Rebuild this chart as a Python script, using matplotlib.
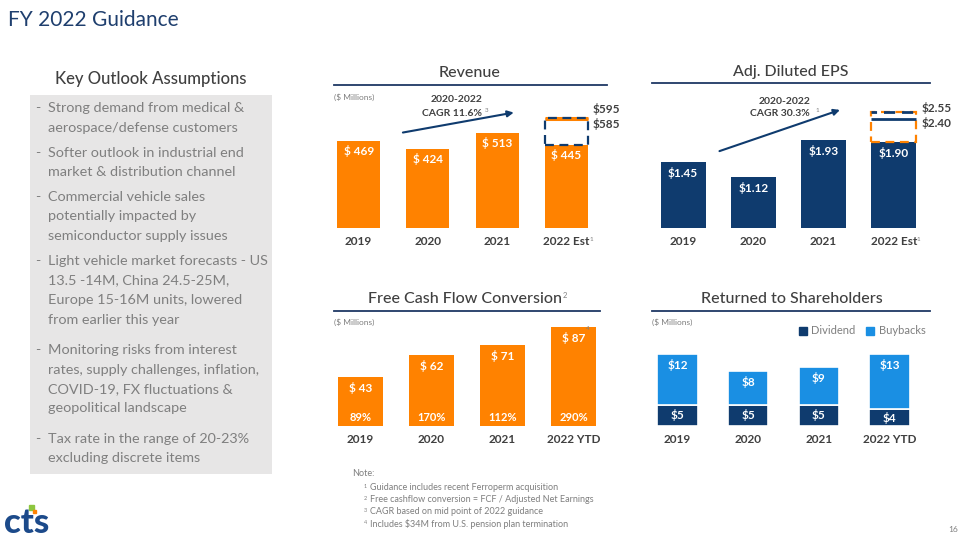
import matplotlib.pyplot as plt
from matplotlib.lines import Line2D
from matplotlib.patches import Rectangle, Patch

plt.rcParams['font.family'] = ['Lato', 'DejaVu Sans']

# data
years_est = ['2019', '2020', '2021', '2022 Est']
years_ytd = ['2019', '2020', '2021', '2022 YTD']
revenue = [469, 424, 513, 445]
revenue_low, revenue_high = 585, 595
eps = [1.45, 1.12, 1.93, 1.90]
eps_low, eps_high = 2.40, 2.55
fcf = [43, 62, 71, 87]
fcf_conversion = ['89%', '170%', '112%', '290%']
dividend = [5, 5, 5, 4]
buybacks = [12, 8, 9, 13]

assumptions = [
    ["Strong demand from medical &", "aerospace/defense customers"],
    ["Softer outlook in industrial end", "market & distribution channel"],
    ["Commercial vehicle sales", "potentially impacted by", "semiconductor supply issues"],
    ["Light vehicle market forecasts - US", "13.5 -14M, China 24.5-25M,",
     "Europe 15-16M units, lowered", "from earlier this year"],
    ["Monitoring risks from interest", "rates, supply challenges, inflation,",
     "COVID-19, FX fluctuations &", "geopolitical landscape"],
    ["Tax rate in the range of 20-23%", "excluding discrete items"],
]
notes = [
    "Guidance includes recent Ferroperm acquisition",
    "Free cashflow conversion = FCF / Adjusted Net Earnings",
    "CAGR based on mid point of 2022 guidance",
    "Includes $34M from U.S. pension plan termination",
]

ORANGE = '#FF8200'
NAVY = '#0F3B6E'
BLUE = '#1A8FE3'
DARK = '#404040'
GRAY = '#7F7F7F'

W, H = 960, 540
fig = plt.figure(figsize=(9.6, 5.4), dpi=100)
fig.patch.set_facecolor('white')


def fx(x):
    return x / W


def fy(y):
    return 1 - y / H


def panel(x0, x1, y_top, y_base, ymax, labels):
    ax = fig.add_axes([fx(x0), fy(y_base), (x1 - x0) / W, (y_base - y_top) / H])
    ax.set_xlim(-0.5, 3.5)
    ax.set_ylim(0, ymax)
    for s in ax.spines.values():
        s.set_visible(False)
    ax.set_yticks([])
    ax.set_xticks(range(4), labels, fontsize=8.5, fontweight='bold', color=DARK)
    ax.tick_params(length=0, pad=6)
    ax.patch.set_alpha(0)
    return ax


def section_title(text, xc, y, x0, x1, yline):
    fig.text(fx(xc), fy(y), text, ha='center', va='center', fontsize=11.5, fontweight='medium', color=DARK)
    fig.add_artist(Line2D([fx(x0), fx(x1)], [fy(yline), fy(yline)], color='#1F3864', lw=1.3))


def small(x, y, text, size=5):
    fig.text(fx(x), fy(y), text, ha='left', va='center', fontsize=size, color=GRAY)


# page title
fig.text(fx(8), fy(20), 'FY 2022 Guidance', fontsize=15, color='#1F3F6E', va='center')

# left box
fig.text(fx(151), fy(79), 'Key Outlook Assumptions', ha='center', va='center', fontsize=12,
         fontweight='medium', color=DARK)
fig.add_artist(Rectangle((fx(30), fy(474)), 242 / W, 379 / H, transform=fig.transFigure,
                         facecolor='#E7E6E6', edgecolor='none'))
bullet_y = [108, 153, 197, 261, 350, 439]
for lines, y in zip(assumptions, bullet_y):
    fig.text(fx(35), fy(y), '-', ha='left', va='center', fontsize=10.4, color=GRAY)
    for j, line in enumerate(lines):
        fig.text(fx(48), fy(y + 19.5 * j), line, ha='left', va='center', fontsize=10.4, color=GRAY)

# revenue
section_title('Revenue', 470, 73, 334, 607, 85)
small(334, 97, '($ Millions)', 6)
ax = panel(324, 601, 95, 228, 133 / 0.1855, years_est)
ax.bar(range(4), revenue, width=0.62, color=ORANGE, zorder=2)
for i, v in enumerate(revenue):
    ax.annotate(f'$ {v}', (i, v), xytext=(0, -4), textcoords='offset pixels', ha='center', va='top',
                fontsize=8.5, fontweight='bold', color='white', zorder=5)
ax.hlines([revenue_high, revenue_low], 3 - 0.31, 3 + 0.31, color=ORANGE, lw=2.2, zorder=3)
ax.add_patch(Rectangle((3 - 0.31, revenue[3]), 0.62, revenue_high - revenue[3], fill=False,
                       edgecolor=NAVY, lw=1.6, linestyle=(0, (4, 2.5)), zorder=4))
ax.annotate(f'${revenue_high}', (3.31, revenue_high), xytext=(5, 9), textcoords='offset pixels',
            ha='left', va='center', fontsize=8.5, fontweight='bold', color=DARK)
ax.annotate(f'${revenue_low}', (3.31, revenue_low), xytext=(5, -5), textcoords='offset pixels',
            ha='left', va='center', fontsize=8.5, fontweight='bold', color=DARK)
ax.annotate('', xy=(2.28, 625), xytext=(0.6, 512),
            arrowprops=dict(arrowstyle='-|>', color=NAVY, lw=1.5, mutation_scale=9))
fig.text(fx(457), fy(100), '2020-2022', ha='center', va='center', fontsize=7.5, fontweight='bold', color=DARK)
fig.text(fx(452), fy(113), 'CAGR 11.6%', ha='center', va='center', fontsize=7.5, fontweight='bold', color=DARK)
small(485, 110, '3', 4.5)
small(589, 239, '1', 4.5)

# adj. diluted eps
section_title('Adj. Diluted EPS', 791, 72, 652, 930, 83)
ax = panel(648, 929, 95, 228, 133 / 45.5, years_est)
ax.bar(range(4), eps, width=0.64, color=NAVY, zorder=2)
for i, v in enumerate(eps):
    ax.annotate(f'${v:.2f}', (i, v), xytext=(0, -5), textcoords='offset pixels', ha='center', va='top',
                fontsize=8.5, fontweight='bold', color='white', zorder=5)
ax.add_patch(Rectangle((3 - 0.32, eps[3]), 0.64, eps_high - eps[3], fill=False,
                       edgecolor=ORANGE, lw=1.6, linestyle=(0, (4, 2.5)), zorder=3))
ax.hlines(eps_low, 3 - 0.32, 3 + 0.32, color=NAVY, lw=2, zorder=4)
ax.hlines(eps_high, 3 - 0.32, 3 + 0.32, color=NAVY, lw=2, linestyle=(2, (4, 2.5)), zorder=4)
ax.annotate(f'${eps_high:.2f}', (3.32, eps_high), xytext=(5, 4), textcoords='offset pixels',
            ha='left', va='center', fontsize=8.5, fontweight='bold', color=DARK)
ax.annotate(f'${eps_low:.2f}', (3.32, eps_low), xytext=(5, -4), textcoords='offset pixels',
            ha='left', va='center', fontsize=8.5, fontweight='bold', color=DARK)
ax.annotate('', xy=(2.27, 2.615), xytext=(0.48, 1.67),
            arrowprops=dict(arrowstyle='-|>', color=NAVY, lw=1.5, mutation_scale=9))
fig.text(fx(785), fy(101), '2020-2022', ha='center', va='center', fontsize=7.5, fontweight='bold', color=DARK)
fig.text(fx(780), fy(114), 'CAGR 30.3%', ha='center', va='center', fontsize=7.5, fontweight='bold', color=DARK)
small(815, 111, '1', 4.5)
small(916, 239, '1', 4.5)

# free cash flow conversion
section_title('Free Cash Flow Conversion', 465, 299, 334, 600, 311)
small(563, 295, '2', 5.5)
small(334, 322, '($ Millions)', 6)
ax = panel(325, 609, 315, 426, 111 / 1.14, years_ytd)
ax.bar(range(4), fcf, width=0.62, color=ORANGE, zorder=2)
for i, (v, p) in enumerate(zip(fcf, fcf_conversion)):
    ax.annotate(f'$ {v}', (i, v), xytext=(0, -5), textcoords='offset pixels', ha='center', va='top',
                fontsize=8.5, fontweight='bold', color='white')
    ax.annotate(p, (i, 0), xytext=(0, 3), textcoords='offset pixels', ha='center', va='bottom',
                fontsize=8, fontweight='bold', color='white')
small(586, 328, '4', 4.5)

# returned to shareholders
section_title('Returned to Shareholders', 792, 299, 652, 930, 311)
small(652, 322, '($ Millions)', 6)
ax = panel(642, 925, 315, 426, 111 / 4.24, years_ytd)
ax.bar(range(4), dividend, width=0.57, color=NAVY, edgecolor='white', lw=1.2, zorder=2)
ax.bar(range(4), buybacks, bottom=dividend, width=0.57, color=BLUE, edgecolor='white', lw=1.2, zorder=2)
for i, (d, b) in enumerate(zip(dividend, buybacks)):
    ax.annotate(f'${d}', (i, d / 2), ha='center', va='center', fontsize=8.5, fontweight='bold', color='white')
    ax.annotate(f'${b}', (i, d + b), xytext=(0, -5), textcoords='offset pixels', ha='center', va='top',
                fontsize=8.5, fontweight='bold', color='white')
handles = [Patch(color=NAVY, label='Dividend'), Patch(color=BLUE, label='Buybacks')]
fig.legend(handles=handles, loc='center', bbox_to_anchor=(fx(862), fy(331)), ncol=2, frameon=False,
           fontsize=8, handlelength=0.7, handleheight=0.7, handletextpad=0.4, columnspacing=1.0,
           labelcolor=GRAY)

# notes
fig.text(fx(352), fy(474), 'Note:', ha='left', va='center', fontsize=6.5, color=GRAY)
for k, (n, y) in enumerate(zip(notes, [488, 500, 512, 524])):
    small(364, y - 2, str(k + 1), 4)
    fig.text(fx(370), fy(y), n, ha='left', va='center', fontsize=6.5, color=GRAY)

# logo and page number
fig.text(fx(4), fy(523), 'cts', ha='left', va='center', fontsize=25, fontweight='black', color='#1C4A8A')
fig.add_artist(Rectangle((fx(29), fy(510)), 5 / W, 5 / H, transform=fig.transFigure, color='#8DC63F'))
fig.add_artist(Rectangle((fx(33), fy(513)), 3 / W, 3 / H, transform=fig.transFigure, color=ORANGE))
fig.text(fx(948), fy(530), '16', ha='left', va='center', fontsize=6, color=GRAY)

fig.savefig('out.png', dpi=100)
